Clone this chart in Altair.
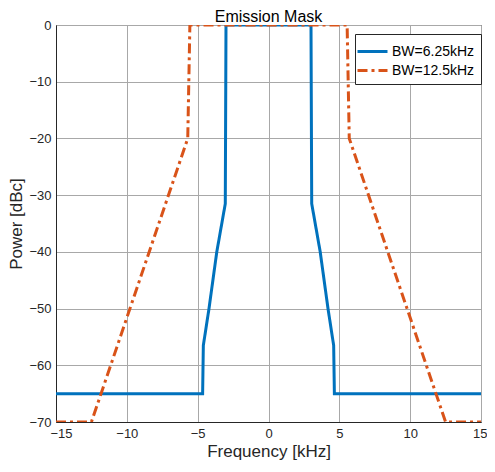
import altair as alt
import pandas as pd

# Blue mask (BW=6.25kHz)
f_625 = [-15, -4.65, -4.6, -4.2, -3.65, -3.05, -3.0, 3.0, 3.05, 3.65, 4.2, 4.6, 4.65, 15]
p_625 = [-65, -65, -56.5, -50, -40, -31.5, 0, 0, -31.5, -40, -50, -56.5, -65, -65]
# Orange mask (BW=12.5kHz)
f_125 = [-15, -12.5, -5.7, -5.55, 5.55, 5.7, 12.5, 15]
p_125 = [-70, -70, -20, 0, 0, -20, -70, -70]

s1, s2 = "BW=6.25kHz", "BW=12.5kHz"
rows = []
for i, (f, p) in enumerate(zip(f_625, p_625)):
    rows.append({"f": f, "p": p, "s": s1, "o": i})
for i, (f, p) in enumerate(zip(f_125, p_125)):
    rows.append({"f": f, "p": p, "s": s2, "o": i})
df = pd.DataFrame(rows)

FONT = "Liberation Sans"

chart = alt.Chart(df).mark_line(strokeWidth=3, clip=True).encode(
    x=alt.X("f:Q", scale=alt.Scale(domain=[-15, 15], nice=False),
            axis=alt.Axis(title="Frequency [kHz]", values=[-15, -10, -5, 0, 5, 10, 15],
                          grid=True, ticks=False, labelPadding=5, titlePadding=3,
                          labelFlush=True, labelFlushOffset=6)),
    y=alt.Y("p:Q", scale=alt.Scale(domain=[-70, 0], nice=False),
            axis=alt.Axis(title="Power [dBc]", values=list(range(-70, 1, 10)),
                          grid=True, ticks=False, labelPadding=5, titlePadding=3,
                          labelFlush=False)),
    color=alt.Color("s:N", scale=alt.Scale(domain=[s1, s2], range=["#0072BD", "#D95319"]),
                    legend=alt.Legend(title=None, orient="none", legendX=299, legendY=9,
                                      symbolType="M-1.5,0H1.5", symbolSize=400, symbolStrokeWidth=3,
                                      labelFontSize=14, labelFont=FONT, labelColor="#000000",
                                      labelOffset=8,
                                      strokeColor="#262626", fillColor="white", padding=6,
                                      rowPadding=0)),
    strokeDash=alt.StrokeDash("s:N", scale=alt.Scale(domain=[s1, s2], range=[[1, 0], [10, 4, 3, 4]]),
                              legend=None),
    order="o:Q",
).properties(
    width=425, height=397,
    title=alt.Title("Emission Mask", fontSize=16, font=FONT, fontWeight="normal",
                    color="#000000", offset=-6, frame="group"),
    autosize=alt.AutoSizeParams(type="none"),
    padding={"left": 48, "top": 17, "right": 6, "bottom": 40},
).configure_axis(
    labelFont=FONT, labelFontSize=13, labelColor="#262626",
    titleFont=FONT, titleFontSize=17, titleFontWeight="normal", titleColor="#262626",
    gridColor="#a8a8a8", gridOpacity=1, gridWidth=1,
    domainColor="#262626", domainWidth=1,
).configure_view(stroke="#262626", strokeWidth=1)

chart.save("out.html", embed_options={"renderer": "svg", "actions": False})
